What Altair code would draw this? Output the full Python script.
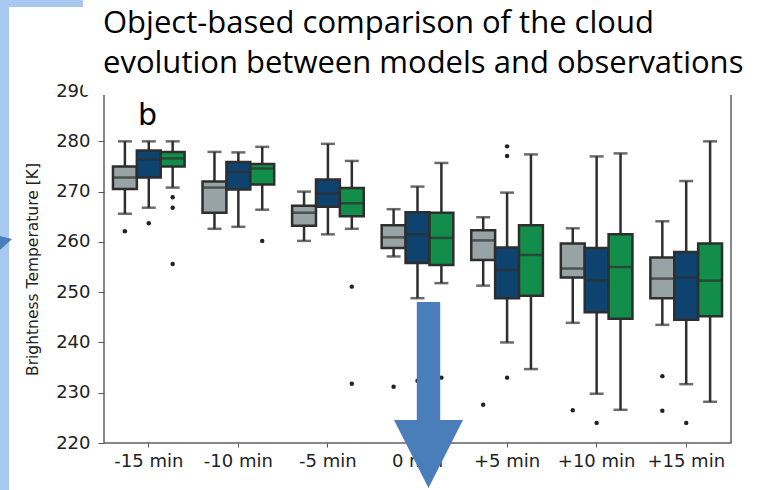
import altair as alt
import pandas as pd

# Time steps relative to the reference time, and the three data sources
groups = ["-15 min", "-10 min", "-5 min", "0 min", "+5 min", "+10 min", "+15 min"]
series = ["obs", "model_1", "model_2"]
colors = ["#97A3A4", "#0F436F", "#138D4A"]

# Box statistics per series, one value per time step [K]
whis_lo = {
    "obs":     [265.6, 262.6, 260.2, 257.1, 251.3, 243.9, 243.5],
    "model_1": [266.8, 263.0, 261.5, 248.8, 240.0, 229.8, 231.7],
    "model_2": [270.8, 266.4, 262.6, 251.8, 234.7, 226.6, 228.2],
}
q1 = {
    "obs":     [270.5, 265.8, 263.2, 258.8, 256.4, 252.9, 248.8],
    "model_1": [272.8, 270.4, 267.0, 255.8, 248.8, 246.0, 244.5],
    "model_2": [275.0, 271.4, 265.1, 255.4, 249.3, 244.7, 245.2],
}
median = {
    "obs":     [272.8, 270.8, 265.8, 260.9, 260.3, 254.7, 252.7],
    "model_1": [276.4, 273.9, 269.6, 261.5, 254.4, 252.3, 252.9],
    "model_2": [276.6, 274.6, 267.7, 260.8, 257.4, 255.0, 252.3],
}
q3 = {
    "obs":     [275.0, 272.0, 267.2, 263.3, 262.3, 259.7, 256.9],
    "model_1": [278.2, 275.9, 272.4, 265.9, 258.9, 258.8, 258.0],
    "model_2": [277.9, 275.5, 270.7, 265.8, 263.3, 261.5, 259.7],
}
whis_hi = {
    "obs":     [280.0, 277.9, 270.0, 266.5, 264.9, 262.7, 264.1],
    "model_1": [280.0, 277.8, 279.5, 271.0, 269.8, 277.0, 272.1],
    "model_2": [280.0, 278.9, 276.1, 275.7, 277.4, 277.6, 280.0],
}
# Outliers per series, listed per time step
outliers = {
    "obs":     [[262.1], [], [], [231.2], [227.6], [226.5], [233.3, 226.4]],
    "model_1": [[263.7], [], [], [232.4], [279.0, 277.1, 233.0], [224.0], [224.0]],
    "model_2": [[268.9, 266.8, 255.6], [260.2], [251.1, 231.8], [233.0], [], [], []],
}

y_ticks = [220, 230, 240, 250, 260, 270, 280, 290]

box_rows = []
out_rows = []
for s in series:
    for i, g in enumerate(groups):
        box_rows.append({
            "group": g, "series": s,
            "lo": whis_lo[s][i], "q1": q1[s][i], "med": median[s][i],
            "q3": q3[s][i], "hi": whis_hi[s][i],
        })
        for v in outliers[s][i]:
            out_rows.append({"group": g, "series": s, "value": v})

boxes = pd.DataFrame(box_rows)
fliers = pd.DataFrame(out_rows)

# Layout of the plot area on the page
OX, OY = 104, 81
W, H = 627, 362

edge = "#2E2E2E"

x_enc = alt.X(
    "group:N", sort=groups,
    scale=alt.Scale(domain=groups, paddingInner=0, paddingOuter=0),
    axis=alt.Axis(title=None, labelAngle=0, domain=False, tickSize=4,
                  tickColor="#555555", labelPadding=5),
)
xo_enc = alt.XOffset(
    "series:N", sort=series,
    scale=alt.Scale(domain=series, paddingInner=0, paddingOuter=0.375),
)
y_scale = alt.Scale(domain=[220, 292], nice=False, zero=False)
color_enc = alt.Color("series:N", scale=alt.Scale(domain=series, range=colors), legend=None)

base = alt.Chart(boxes)

whiskers = base.mark_rule(color=edge, strokeWidth=2.5).encode(
    x=x_enc, xOffset=xo_enc,
    y=alt.Y("lo:Q", scale=y_scale,
            axis=alt.Axis(values=y_ticks, title="Brightness Temperature [K]",
                          domain=False, grid=False, tickSize=6, tickColor="#555555",
                          labelPadding=8, titleX=-72, titleY=188, titleAngle=270,
                          titleAlign="center", titleBaseline="middle")),
    y2="hi:Q",
)
cap_lo = base.mark_tick(color=edge, size=14, thickness=2.5).encode(
    x=x_enc, xOffset=xo_enc, y=alt.Y("lo:Q", scale=y_scale))
cap_hi = base.mark_tick(color=edge, size=14, thickness=2.5).encode(
    x=x_enc, xOffset=xo_enc, y=alt.Y("hi:Q", scale=y_scale))
box = base.mark_bar(stroke=edge, strokeWidth=2.5, opacity=1).encode(
    x=x_enc, xOffset=xo_enc,
    y=alt.Y("q1:Q", scale=y_scale), y2="q3:Q",
    color=color_enc,
)
med = base.mark_tick(color=edge, size=23, thickness=2.5).encode(
    x=x_enc, xOffset=xo_enc, y=alt.Y("med:Q", scale=y_scale))
pts = alt.Chart(fliers).mark_circle(color="#222222", size=20, opacity=1).encode(
    x=x_enc, xOffset=xo_enc, y=alt.Y("value:Q", scale=y_scale))

# Slide decorations around the chart (page pixel positions shifted by the plot origin)
one = alt.Data(values=[{"k": 0}])


def rect(x0, y0, x1, y1, fill):
    return alt.Chart(one).mark_rect(fill=fill, opacity=1).encode(
        x=alt.value(x0 - OX), x2=alt.value(x1 - OX),
        y=alt.value(y0 - OY), y2=alt.value(y1 - OY))


def label(txt, x, y, font, size, color="#000000"):
    return alt.Chart(one).mark_text(
        text=txt, font=font, fontSize=size, color=color,
        align="left", baseline="alphabetic",
    ).encode(x=alt.value(x - OX), y=alt.value(y - OY))


side_bar = rect(0, 0, 9, 490, "#A9C8F0")
top_bar = rect(0, 0, 83, 7, "#A9C8F0")
cover = rect(83, 0, 769, 95, "#FFFFFF")
title1 = label("Object-based comparison of the cloud", 103, 33, "Open Sans", 31)
title2 = label("evolution between models and observations", 103, 73, "Open Sans", 31)
panel = label("b", 138, 125, "DejaVu Sans", 30)

arrow_path = ("M -0.126 -1 L 0.126 -1 L 0.126 0.269 L 0.371 0.269 "
              "L 0 1 L -0.371 0.269 L -0.126 0.269 Z")
arrow = alt.Chart(one).mark_point(
    shape=arrow_path, filled=True, fill="#4A7EBB", opacity=1, strokeWidth=0,
).encode(x=alt.value(428.5 - OX), y=alt.value(395 - OY), size=alt.value(186 * 186))

tip_path = "M -0.75 -0.875 L 0.75 -0.5 L -0.75 0.875 Z"
tip = alt.Chart(one).mark_point(
    shape=tip_path, filled=True, fill="#4A7EBB", opacity=1, strokeWidth=0,
).encode(x=alt.value(6 - OX), y=alt.value(243 - OY), size=alt.value(256))

chart = alt.layer(
    whiskers, cap_lo, cap_hi, box, med, pts,
    cover, side_bar, top_bar, title1, title2, panel, arrow, tip,
).properties(
    width=W, height=H,
    autosize=alt.AutoSizeParams(type="none"),
    padding={"left": OX, "top": OY, "right": 769 - OX - W, "bottom": 490 - OY - H},
).configure_view(
    stroke="#606060", strokeWidth=1.5,
).configure_axis(
    labelFont="DejaVu Sans", labelFontSize=18, labelColor="#222222",
    titleFont="DejaVu Sans", titleFontSize=15.5, titleFontWeight="normal", titleColor="#222222",
)

chart.save("out.html", embed_options={"renderer": "svg", "actions": False})
